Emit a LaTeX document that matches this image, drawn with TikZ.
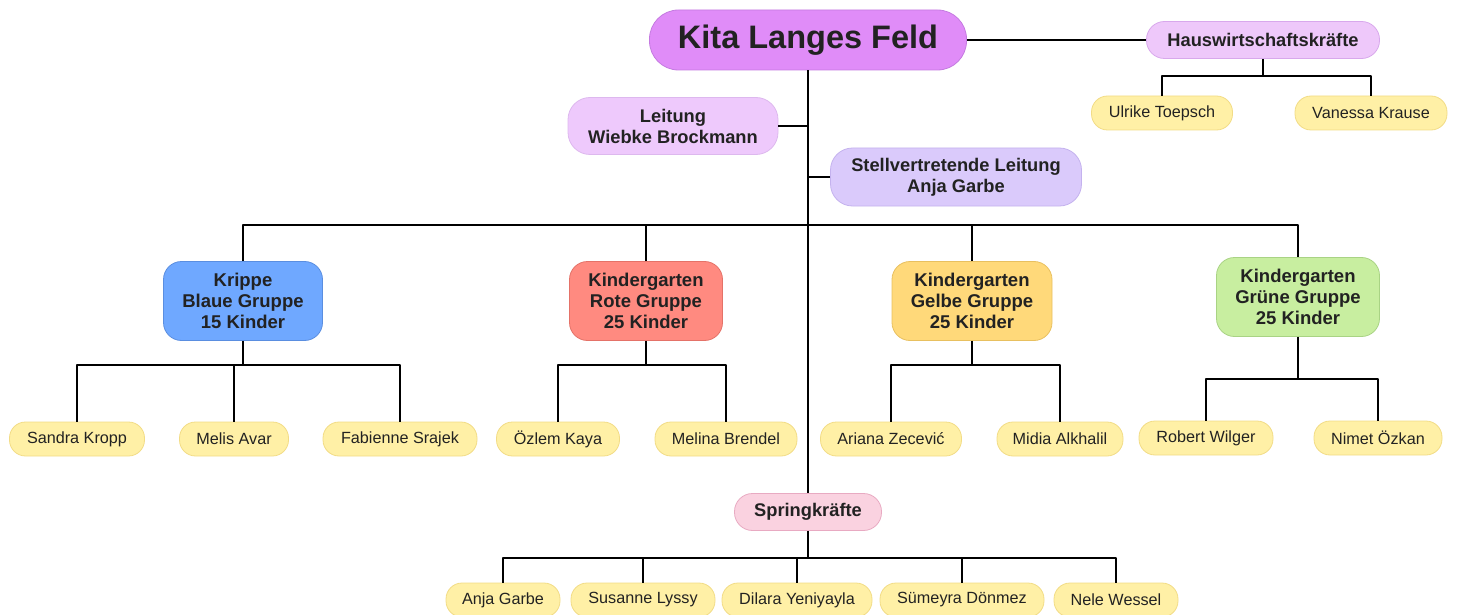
\documentclass[tikz,border=0pt]{standalone}
\usepackage{fontspec}
\setmainfont{Liberation Sans}
\definecolor{rootF}{HTML}{E08CF8}\definecolor{rootB}{HTML}{C47AE0}
\definecolor{hwF}{HTML}{EEC8FA}\definecolor{hwB}{HTML}{D8A8EC}
\definecolor{leitF}{HTML}{EEC9FC}\definecolor{leitB}{HTML}{DDB8EE}
\definecolor{stvF}{HTML}{DACAFB}\definecolor{stvB}{HTML}{C4B2EE}
\definecolor{blueF}{HTML}{6FA8FF}\definecolor{blueB}{HTML}{5A8EE0}
\definecolor{redF}{HTML}{FF8A80}\definecolor{redB}{HTML}{E47268}
\definecolor{yelF}{HTML}{FFD97A}\definecolor{yelB}{HTML}{E8C060}
\definecolor{grnF}{HTML}{C8EEA0}\definecolor{grnB}{HTML}{A9D384}
\definecolor{pinkF}{HTML}{FAD2E0}\definecolor{pinkB}{HTML}{E8AAC2}
\definecolor{leafF}{HTML}{FFF0A6}\definecolor{leafB}{HTML}{F2DC86}
\definecolor{txt}{HTML}{222222}
\tikzset{
  box/.style={draw, line width=0.8pt, align=center, inner sep=0pt, text=txt},
  leaf/.style={box, fill=leafF, draw=leafB, minimum height=34, rounded corners=16,
    font=\fontsize{16.2}{19}\selectfont},
  grp/.style={box, minimum height=79, rounded corners=18,
    font=\bfseries\fontsize{18.5}{21}\selectfont},
  head/.style={box, font=\bfseries\fontsize{18.3}{21}\selectfont},
  conn/.style={line width=2.4pt, black, line join=round}
}
\begin{document}
\begin{tikzpicture}[x=1pt,y=1pt]
\useasboundingbox (0,0) rectangle (1457,-615);
% main nodes
\node[box, fill=rootF, draw=rootB, minimum width=317, minimum height=60, rounded corners=29,
  font=\bfseries\fontsize{32.5}{36}\selectfont] (root) at (808,-40) {Kita Langes Feld};
\node[head, fill=hwF, draw=hwB, minimum width=233, minimum height=37, rounded corners=18] (hw) at (1263,-40) {Hauswirtschaftskräfte};
\node[leaf, minimum width=141] (ulrike) at (1162,-113) {Ulrike Toepsch};
\node[leaf, minimum width=152] (vanessa) at (1371,-113) {Vanessa Krause};
\node[head, fill=leitF, draw=leitB, minimum width=210, minimum height=57, rounded corners=22] (leit) at (673,-126) {Leitung\\Wiebke Brockmann};
\node[head, fill=stvF, draw=stvB, minimum width=251, minimum height=58, rounded corners=22] (stv) at (956,-177) {Stellvertretende Leitung\\Anja Garbe};
% groups
\node[grp, fill=blueF, draw=blueB, minimum width=159] (krippe) at (243,-301) {Krippe\\Blaue Gruppe\\15 Kinder};
\node[grp, fill=redF, draw=redB, minimum width=153] (rote) at (646,-301) {Kindergarten\\Rote Gruppe\\25 Kinder};
\node[grp, fill=yelF, draw=yelB, minimum width=160] (gelbe) at (972,-301) {Kindergarten\\Gelbe Gruppe\\25 Kinder};
\node[grp, fill=grnF, draw=grnB, minimum width=163] (gruen) at (1298,-297) {Kindergarten\\Grüne Gruppe\\25 Kinder};
% leaves
\node[leaf, minimum width=135] (sandra) at (77,-439) {Sandra Kropp};
\node[leaf, minimum width=109] (melis) at (234,-439) {Melis Avar};
\node[leaf, minimum width=154] (fabienne) at (400,-439) {Fabienne Srajek};
\node[leaf, minimum width=123] (oezlem) at (558,-439) {Özlem Kaya};
\node[leaf, minimum width=142] (melina) at (726,-439) {Melina Brendel};
\node[leaf, minimum width=141] (ariana) at (891,-439) {Ariana Zecević};
\node[leaf, minimum width=126] (midia) at (1060,-439) {Midia Alkhalil};
\node[leaf, minimum width=134] (robert) at (1206,-438) {Robert Wilger};
\node[leaf, minimum width=128] (nimet) at (1378,-438) {Nimet Özkan};
% Springkraefte
\node[head, fill=pinkF, draw=pinkB, minimum width=147, minimum height=37, rounded corners=18] (spring) at (808,-512) {Springkräfte};
\node[leaf, minimum width=114] (anja) at (503,-600) {Anja Garbe};
\node[leaf, minimum width=144] (susanne) at (643,-600) {Susanne Lyssy};
\node[leaf, minimum width=150] (dilara) at (797,-600) {Dilara Yeniyayla};
\node[leaf, minimum width=164] (suemeyra) at (962,-600) {Sümeyra Dönmez};
\node[leaf, minimum width=124] (nele) at (1116,-600) {Nele Wessel};
% bar coordinates
\coordinate (hbar) at (1263,-76);
\coordinate (gbar) at (808,-225);
\coordinate (kbar) at (243,-365);
\coordinate (rbar) at (646,-365);
\coordinate (ybar) at (972,-365);
\coordinate (grbar) at (1298,-379);
\coordinate (sbar) at (808,-558);
% connectors
\draw[conn] (root.south) -- (spring.north);
\draw[conn] (root.east) -- (hw.west);
\draw[conn] (hw.south) -- (hbar);
\draw[conn] (ulrike.north) |- (hbar) -| (vanessa.north);
\draw[conn] (leit.east) -- (leit.east -| root.south);
\draw[conn] (stv.west) -- (stv.west -| root.south);
\draw[conn] (krippe.north) |- (gbar) -| (gruen.north);
\draw[conn] (rote.north) -- (rote.north |- gbar);
\draw[conn] (gelbe.north) -- (gelbe.north |- gbar);
\draw[conn] (krippe.south) -- (kbar);
\draw[conn] (sandra.north) |- (kbar) -| (fabienne.north);
\draw[conn] (melis.north) -- (melis.north |- kbar);
\draw[conn] (rote.south) -- (rbar);
\draw[conn] (oezlem.north) |- (rbar) -| (melina.north);
\draw[conn] (gelbe.south) -- (ybar);
\draw[conn] (ariana.north) |- (ybar) -| (midia.north);
\draw[conn] (gruen.south) -- (grbar);
\draw[conn] (robert.north) |- (grbar) -| (nimet.north);
\draw[conn] (spring.south) -- (sbar);
\draw[conn] (anja.north) |- (sbar) -| (nele.north);
\draw[conn] (susanne.north) -- (susanne.north |- sbar);
\draw[conn] (dilara.north) -- (dilara.north |- sbar);
\draw[conn] (suemeyra.north) -- (suemeyra.north |- sbar);
\end{tikzpicture}
\end{document}
